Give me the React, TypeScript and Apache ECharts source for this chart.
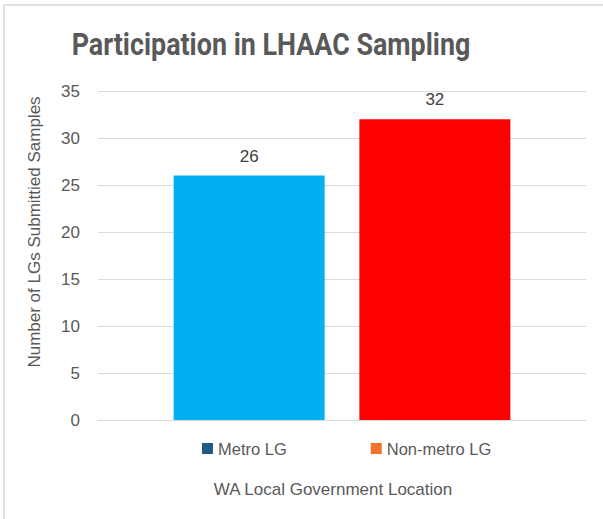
import React, { useEffect, useRef } from "react";
import * as echarts from "echarts";

const seriesNames = ["Metro LG", "Non-metro LG"];
const values = [26, 32];
const barColors = ["#00B0F0", "#FF0000"];
const legendColors = ["#1F5A85", "#F0732F"];
const yTicks = { min: 0, max: 35, interval: 5 };
const titleText = "Participation in LHAAC Sampling";
const xTitle = "WA Local Government Location";
const yTitle = "Number of LGs Submittied Samples";

export default function App() {
  const ref = useRef<HTMLDivElement>(null);
  useEffect(() => {
    if (!ref.current) return;
    const chart = echarts.init(ref.current, null, { renderer: "svg" });
    const font = "Liberation Sans";
    chart.setOption({
      animation: false,
      backgroundColor: "#ffffff",
      textStyle: { fontFamily: font },
      legend: {
        data: seriesNames,
        top: 435,
        left: 197,
        itemGap: 84,
        itemWidth: 11,
        itemHeight: 11,
        icon: "rect",
        textStyle: { fontSize: 16.5, color: "#595959", fontFamily: font },
      },
      grid: { left: 98, right: 17, top: 91, bottom: 99 },
      xAxis: {
        type: "category",
        data: [""],
        axisLine: { lineStyle: { color: "#d9d9d9", width: 1 } },
        axisTick: { show: false },
        axisLabel: { show: false },
      },
      yAxis: {
        type: "value",
        min: yTicks.min,
        max: yTicks.max,
        interval: yTicks.interval,
        axisLine: { show: false },
        axisTick: { show: false },
        axisLabel: { fontSize: 17, color: "#595959", margin: 18 },
        splitLine: { lineStyle: { color: "#d9d9d9", width: 1 } },
      },
      series: seriesNames.map((name, i) => ({
        name,
        type: "bar",
        barWidth: 151,
        barGap: "23%",
        itemStyle: { color: legendColors[i] },
        data: [{ value: values[i], itemStyle: { color: barColors[i] } }],
        label: {
          show: true,
          position: "top",
          distance: 11,
          fontSize: 17,
          color: "#404040",
        },
      })),
      graphic: [
        {
          type: "rect",
          shape: { x: 4, y: 5, width: 700, height: 700 },
          style: { fill: "none", stroke: "#d9d9d9", lineWidth: 1.5 },
          silent: true,
        },
        {
          type: "text",
          x: 271,
          y: 44,
          scaleX: 0.84,
          style: {
            text: titleText,
            fontSize: 32,
            fontWeight: "bold",
            fontFamily: "Roboto",
            fill: "#595959",
            align: "center",
            verticalAlign: "middle",
          },
        },
        {
          type: "text",
          x: 333,
          y: 489,
          style: {
            text: xTitle,
            fontSize: 17,
            fontFamily: font,
            fill: "#595959",
            align: "center",
            verticalAlign: "middle",
          },
        },
        {
          type: "text",
          x: 34,
          y: 232,
          rotation: Math.PI / 2,
          style: {
            text: yTitle,
            fontSize: 17,
            fontFamily: font,
            fill: "#595959",
            align: "center",
            verticalAlign: "middle",
          },
        },
      ],
    });
    return () => chart.dispose();
  }, []);
  return (
    <div
      ref={ref}
      style={{ position: "fixed", left: 0, top: 0, width: 603, height: 519 }}
    />
  );
}
